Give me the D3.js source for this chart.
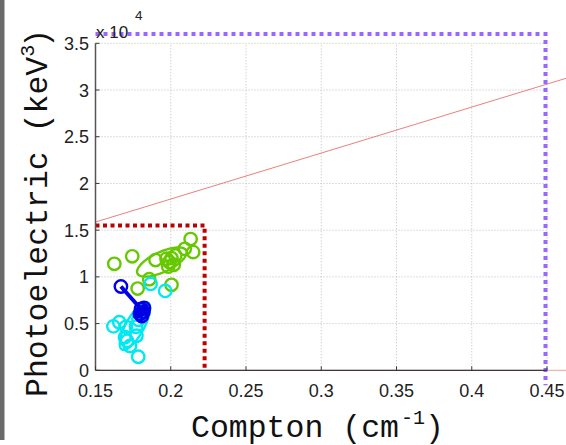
<!DOCTYPE html>
<html>
<head>
<meta charset="utf-8">
<script src="https://cdn.jsdelivr.net/npm/d3@7"></script>
<style>
  html, body { margin: 0; padding: 0; background: #fff; }
  svg { display: block; }
</style>
</head>
<body>
<script>
// Compton / photoelectric scatter
const xTicks = [0.15, 0.2, 0.25, 0.3, 0.35, 0.4, 0.45];
const xTickLabels = ["0.15", "0.2", "0.25", "0.3", "0.35", "0.4", "0.45"];
const yTicks = [0, 5000, 10000, 15000, 20000, 25000, 30000, 35000];
const yTickLabels = ["0", "0.5", "1", "1.5", "2", "2.5", "3", "3.5"];

// group A (green)
const greenPts = [
  [0.1625, 11400], [0.1744, 12200], [0.2132, 14050], [0.2149, 12650],
  [0.2093, 13000], [0.2030, 12300], [0.2005, 12000], [0.1972, 11950],
  [0.1983, 11100], [0.1990, 11600], [0.1899, 11800], [0.2005, 9150],
  [0.1857, 9750], [0.1780, 8750], [0.2020, 11300]
];
// group B (cyan)
const cyanPts = [
  [0.1866, 9250], [0.1963, 8500], [0.1619, 4700], [0.1658, 5150],
  [0.1702, 4650], [0.1769, 4650], [0.1785, 5400], [0.1696, 3550],
  [0.1772, 3700], [0.1729, 2600], [0.1784, 1450], [0.1710, 3150],
  [0.1805, 6150]
];
// track (blue)
const bluePts = [
  [0.1669, 8970], [0.1802, 6560], [0.1818, 6240], [0.1795, 6030],
  [0.1822, 6670], [0.1808, 5810]
];
// ellipses: centre, major-axis vector, minor-axis vector (data units)
const greenEllipse = { c: [0.1941, 11590], u: [0.01625, 1220], v: [0.00279, -974] };
const cyanEllipse = { c: [0.1762, 4740], u: [0.00862, 2515], v: [0.00524, -471] };
const blueEllipse = { c: [0.1808, 6350], u: [0.0033, 640], v: [0.0020, -268] };

// reference boundaries
const purpleBound = [[0.15, 36000], [0.449, 36000], [0.449, -1600]];
const redBound = [[0.15, 15500], [0.2225, 15500], [0.2225, 0]];
const redLine = [[0.15, 15870], [0.465, 31370]];
const zeroLine = [[0.15, 0], [0.465, 0]];

const W = 566, H = 445;
const x = d3.scaleLinear().domain([0.15, 0.45]).range([95.5, 547]);
const y = d3.scaleLinear().domain([0, 35000]).range([370.3, 43.3]);

const svg = d3.select("body").append("svg").attr("width", W).attr("height", H);

// grey strip at left edge
svg.append("rect").attr("x", 0).attr("y", 0).attr("width", 4.5).attr("height", 440).attr("fill", "#6a6a6a");

const line = d3.line().x(d => x(d[0])).y(d => y(d[1]));

// grid
const grid = svg.append("g");
grid.selectAll(".gx").data(xTicks.slice(1)).join("line")
  .attr("x1", d => x(d)).attr("x2", d => x(d))
  .attr("y1", y(0)).attr("y2", y(35000))
  .attr("stroke", "#bdbdbd").attr("stroke-width", 1).attr("stroke-dasharray", "1,2");
grid.selectAll(".gy").data(yTicks.slice(1)).join("line")
  .attr("x1", x(0.15)).attr("x2", x(0.45))
  .attr("y1", d => y(d)).attr("y2", d => y(d))
  .attr("stroke", "#bdbdbd").attr("stroke-width", 1).attr("stroke-dasharray", "1,2");

// thin reference lines
svg.append("path").attr("d", line(zeroLine)).attr("fill", "none")
  .attr("stroke", "#f0a0a0").attr("stroke-width", 1);
svg.append("path").attr("d", line(redLine)).attr("fill", "none")
  .attr("stroke", "#e87070").attr("stroke-width", 0.9);

// ellipses
function ellipsePts(e) {
  return d3.range(0, 361, 4).map(a => {
    const t = a * Math.PI / 180;
    return [e.c[0] + Math.cos(t) * e.u[0] + Math.sin(t) * e.v[0],
            e.c[1] + Math.cos(t) * e.u[1] + Math.sin(t) * e.v[1]];
  });
}

function drawCircles(data, color) {
  svg.append("g").selectAll("circle").data(data).join("circle")
    .attr("cx", d => x(d[0])).attr("cy", d => y(d[1])).attr("r", 6.2)
    .attr("fill", "none").attr("stroke", color).attr("stroke-width", 2.4);
}

svg.append("path").attr("d", line(ellipsePts(greenEllipse))).attr("fill", "none")
  .attr("stroke", "#66c800").attr("stroke-width", 2.4);
drawCircles(greenPts, "#66c800");

svg.append("path").attr("d", line(ellipsePts(cyanEllipse))).attr("fill", "none")
  .attr("stroke", "#00e8f0").attr("stroke-width", 2.4);
drawCircles(cyanPts, "#00e8f0");

// blue track
svg.append("path").attr("d", line(bluePts.slice(0, 2))).attr("fill", "none")
  .attr("stroke", "#0000e6").attr("stroke-width", 4);
svg.append("path").attr("d", line(ellipsePts(blueEllipse))).attr("fill", "#0000e6")
  .attr("stroke", "#0000e6").attr("stroke-width", 2);
drawCircles(bluePts, "#0000e6");

// dotted boundaries
svg.append("path").attr("d", line(purpleBound)).attr("fill", "none")
  .attr("stroke", "#9966ff").attr("stroke-width", 4).attr("stroke-dasharray", "4,4");
svg.append("path").attr("d", line(redBound)).attr("fill", "none")
  .attr("stroke", "#c00000").attr("stroke-width", 4).attr("stroke-dasharray", "4,3.5");

// axes
const axisColor = "#3a3a3a";
svg.append("line").attr("x1", x(0.15)).attr("x2", x(0.45)).attr("y1", y(0)).attr("y2", y(0))
  .attr("stroke", axisColor).attr("stroke-width", 1.3);
svg.append("line").attr("x1", x(0.15)).attr("x2", x(0.15)).attr("y1", y(0)).attr("y2", y(35000))
  .attr("stroke", "#555").attr("stroke-width", 1.5);
svg.append("g").selectAll("line").data(xTicks).join("line")
  .attr("x1", d => x(d)).attr("x2", d => x(d)).attr("y1", y(0)).attr("y2", y(0) - 4)
  .attr("stroke", axisColor).attr("stroke-width", 1);
svg.append("g").selectAll("line").data(yTicks).join("line")
  .attr("x1", x(0.15)).attr("x2", x(0.15) + 4).attr("y1", d => y(d)).attr("y2", d => y(d))
  .attr("stroke", axisColor).attr("stroke-width", 1);

const tickFont = "'Liberation Sans', Arial, sans-serif";
svg.append("g").selectAll("text").data(xTicks).join("text")
  .attr("x", d => x(d)).attr("y", 397).attr("text-anchor", "middle")
  .attr("font-family", tickFont).attr("font-size", 18).attr("fill", "#222")
  .text((d, i) => xTickLabels[i]);
svg.append("g").selectAll("text").data(yTicks).join("text")
  .attr("x", 89).attr("y", d => y(d) + 6.5).attr("text-anchor", "end")
  .attr("font-family", tickFont).attr("font-size", 18).attr("fill", "#222")
  .text((d, i) => yTickLabels[i]);

// exponent
svg.append("text").attr("x", 96).attr("y", 37.5)
  .attr("font-family", tickFont).attr("font-size", 17).attr("fill", "#222").text("x 10");
svg.append("text").attr("x", 135).attr("y", 20)
  .attr("font-family", tickFont).attr("font-size", 13.5).attr("fill", "#222").text("4");

// axis titles
const labelFont = "'Courier New', 'Liberation Mono', monospace";
const xl = svg.append("text").attr("x", 191).attr("y", 437)
  .attr("font-family", labelFont).attr("font-size", 31.5).attr("fill", "#111");
xl.append("tspan").text("Compton (cm");
xl.append("tspan").attr("font-size", 20).attr("dx", 2).attr("dy", -13).text("-1");
xl.append("tspan").attr("dy", 13).text(")");

const yl = svg.append("text").attr("transform", "translate(47,397) rotate(-90)")
  .attr("font-family", labelFont).attr("font-size", 31.5).attr("fill", "#111");
yl.append("tspan").text("Photoelectric (keV");
yl.append("tspan").attr("font-size", 20).attr("dy", -13).text("3");
yl.append("tspan").attr("dx", -3).attr("dy", 13).text(")");
</script>
</body>
</html>
